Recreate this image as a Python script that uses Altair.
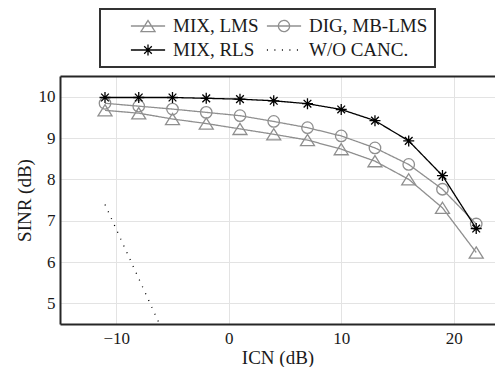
import altair as alt
import pandas as pd

# ---- data ----
icn = [-11, -8, -5, -2, 1, 4, 7, 10, 13, 16, 19, 22]
mix_lms = [9.67, 9.60, 9.46, 9.35, 9.22, 9.09, 8.95, 8.73, 8.44, 8.00, 7.31, 6.23]
dig_mblms = [9.84, 9.77, 9.70, 9.62, 9.54, 9.40, 9.25, 9.05, 8.76, 8.36, 7.76, 6.92]
mix_rls = [9.98, 9.98, 9.98, 9.96, 9.94, 9.90, 9.83, 9.69, 9.42, 8.93, 8.09, 6.81]
wo_icn = [-11, -8, -5]
wo_canc = [7.39, 5.60, 3.81]

series = ["MIX, LMS", "DIG, MB-LMS", "MIX, RLS", "W/O CANC."]
# legend lays entries out column by column
legend_order = ["MIX, LMS", "MIX, RLS", "DIG, MB-LMS", "W/O CANC."]
x_ticks = [-10, 0, 10, 20]
y_ticks = [5, 6, 7, 8, 9, 10]

rows = []
for name, xs, ys in [
    ("MIX, LMS", icn, mix_lms),
    ("DIG, MB-LMS", icn, dig_mblms),
    ("MIX, RLS", icn, mix_rls),
    ("W/O CANC.", wo_icn, wo_canc),
]:
    for xv, yv in zip(xs, ys):
        rows.append({"series": name, "icn": xv, "sinr": yv})
df = pd.DataFrame(rows)

# ---- styles ----
FONT = "Liberation Serif, DejaVu Serif, serif"
GRAY = "#8f8f8f"
BLACK = "#000000"
TXT = "#1a1a1a"
FRAME = "#262626"

TRI = "M0,-0.8L1,0.8L-1,0.8Z"
CIRC = "M1,0A1,1 0 1,1 -1,0A1,1 0 1,1 1,0"
STAR = "M-1,0L1,0M0,-1L0,1M-0.7,-0.7L0.7,0.7M-0.7,0.7L0.7,-0.7"

# legend symbols (unit = 9 px): line ~34 px long with marker in the middle
LEG_TRI = "M-1.9,0L1.9,0M0,-0.62L0.78,0.62L-0.78,0.62Z"
LEG_CIRC = "M-1.9,0L1.9,0M0.62,0A0.62,0.62 0 1,1 -0.62,0A0.62,0.62 0 1,1 0.62,0"
LEG_STAR = "M-1.9,0L1.9,0M0,-0.6L0,0.6M-0.42,-0.42L0.42,0.42M-0.42,0.42L0.42,-0.42"
LEG_DOT = "M-1.9,0L1.9,0"

styles = {
    "MIX, LMS": dict(color=GRAY, dash=[1, 0], shape=TRI, size=196, leg=LEG_TRI),
    "DIG, MB-LMS": dict(color=GRAY, dash=[1, 0], shape=CIRC, size=132, leg=LEG_CIRC),
    "MIX, RLS": dict(color=BLACK, dash=[1, 0], shape=STAR, size=121, leg=LEG_STAR),
    "W/O CANC.": dict(color=BLACK, dash=[1, 6.5], shape=None, size=0, leg=LEG_DOT),
}

# the page squeezes anything wider than 487 px, so the plot ends at x = 495
x_scale = alt.Scale(domain=[-15, 23.67], nice=False, zero=False)
y_scale = alt.Scale(domain=[4.5, 10.5], nice=False, zero=False)

x_main = alt.X("icn:Q", scale=x_scale,
               axis=alt.Axis(values=x_ticks, title="ICN (dB)", labelPadding=6,
                             titlePadding=2, domain=True, grid=True,
                             labelFont=FONT, titleFont=FONT))
x_top = alt.X("icn:Q", scale=x_scale,
              axis=alt.Axis(orient="top", labels=False, title=None, domain=True,
                            grid=False, ticks=False))
y_main = alt.Y("sinr:Q", scale=y_scale,
               axis=alt.Axis(values=y_ticks, title="SINR (dB)", labelPadding=5,
                             titlePadding=4, domain=True, grid=True,
                             labelFont=FONT, titleFont=FONT))

layers = []
for name in series:
    st = styles[name]
    base = alt.Chart(df).transform_filter(alt.datum.series == name)
    layers.append(
        base.mark_line(color=st["color"], strokeWidth=1.3, strokeDash=st["dash"],
                       strokeCap="butt", clip=True)
        .encode(x=x_main, y=y_main)
    )
    if st["shape"]:
        layers.append(
            base.mark_point(shape=st["shape"], size=st["size"], color=st["color"],
                            strokeWidth=1.3, filled=False, opacity=1, clip=True)
            .encode(x=x_main, y=y_main)
        )
data_layer = alt.layer(*layers)

# a blank title on the left gives the box its wide left margin
legend = alt.Legend(
    title=" ", titleOrient="left", titlePadding=23, titleFontSize=1,
    orient="none", legendX=40, legendY=-67, columns=2,
    symbolOpacity=1, symbolStrokeWidth=1.3, symbolSize=324,
    labelFont=FONT, labelFontSize=19, labelColor=TXT, labelLimit=0,
    labelOffset=15, columnPadding=5, rowPadding=4, padding=7,
    symbolOffset=8, strokeColor="#333333", fillColor="white",
)

leg_layer = alt.Chart(df).mark_point(opacity=0, filled=False, size=324).encode(
    x=x_top,
    y=y_main,
    shape=alt.Shape("series:N", scale=alt.Scale(domain=legend_order,
                    range=[styles[s]["leg"] for s in legend_order]), legend=legend),
    color=alt.Color("series:N", scale=alt.Scale(domain=legend_order,
                    range=[styles[s]["color"] for s in legend_order]), legend=legend),
    strokeDash=alt.StrokeDash("series:N", scale=alt.Scale(domain=legend_order,
                    range=[styles[s]["dash"] for s in legend_order]), legend=legend),
)

chart = (
    alt.layer(data_layer, leg_layer)
    .resolve_axis(x="independent")
    .properties(
        width=435, height=248,
        autosize=alt.AutoSizeParams(type="none"),
        padding={"left": 52, "top": 68, "right": 0, "bottom": 43},
        background="white",
    )
    .configure(font=FONT)
    .configure_view(stroke=None)
    .configure_axis(
        ticks=False, gridColor="#e3e3e3", gridWidth=1,
        domainColor=FRAME, domainWidth=2,
        labelFont=FONT, labelFontSize=17, labelColor=TXT,
        titleFont=FONT, titleFontSize=19, titleColor=TXT, titleFontWeight="normal",
    )
    .configure_legend(strokeWidth=2)
)

chart.save("out.html", embed_options={"renderer": "svg", "actions": False})
